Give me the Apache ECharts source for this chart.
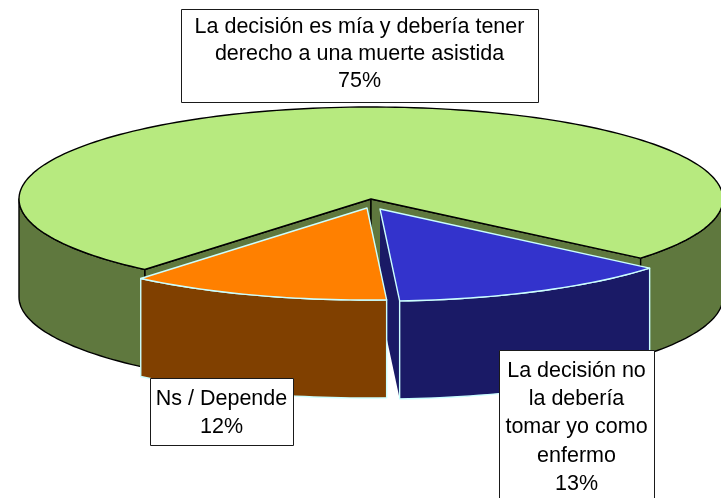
<!DOCTYPE html>
<html lang="es">
<head>
<meta charset="utf-8">
<style>
  html, body { margin: 0; padding: 0; background: #fff; }
  #main { width: 721px; height: 498px; }
</style>
</head>
<body>
<div id="main"></div>
<script src="https://cdn.jsdelivr.net/npm/echarts@6/dist/echarts.min.js"></script>
<script type="text/javascript">
  var categories = [
    'La decisión es mía y debería tener\nderecho a una muerte asistida',
    'La decisión no\nla debería\ntomar yo como\nenfermo',
    'Ns / Depende'
  ];
  var values = [75, 13, 12];

  // pie geometry, the chart has no axes so it is all by hand from the values
  var pie = { cx: 371, cy: 199, rx: 352, ry: 92, depth: 98, startAngle: 220 };
  var explode = [[0, 0], [9, 10], [-4, 9]];
  var topColors = ['#B7EA7F', '#3333CC', '#FF8000'];
  var wallColors = ['#5F783E', '#1A1A66', '#804000'];
  var edgeColors = ['#000000', '#CCFFFF', '#CCFFFF'];
  var boxes = [
    { x: 181, y: 9, width: 357, height: 93, lineHeight: 27, dy: -1 },
    { x: 499, y: 350, width: 155, height: 153, lineHeight: 28.2, dy: 1 },
    { x: 150, y: 378, width: 143, height: 67, lineHeight: 28, dy: 2 }
  ];

  var total = values.reduce(function(a, b) { return a + b; }, 0);

  function sliceAngles(index) {
    var start = pie.startAngle;
    for (var i = 0; i < index; i++) {
      start += values[i] / total * 360;
    }
    return [start, start + values[index] / total * 360];
  }

  function ellipsePoint(angle, ox, oy, drop) {
    var rad = angle * Math.PI / 180;
    return [
      pie.cx + ox + pie.rx * Math.sin(rad),
      pie.cy + oy + drop - pie.ry * Math.cos(rad)
    ];
  }

  function arcPoints(from, to, ox, oy, drop) {
    var pts = [];
    var steps = Math.ceil(Math.abs(to - from) / 1.5);
    for (var i = 0; i <= steps; i++) {
      pts.push(ellipsePoint(from + (to - from) * i / steps, ox, oy, drop));
    }
    return pts;
  }

  function polygon(points, fill, stroke) {
    return {
      type: 'polygon',
      shape: { points: points },
      style: { fill: fill, stroke: stroke, lineWidth: 1.4, lineJoin: 'round' }
    };
  }

  function renderSlice(params, api) {
    var i = params.dataIndex;
    var a = sliceAngles(i);
    var ox = explode[i][0], oy = explode[i][1];
    var top = topColors[i], wall = wallColors[i], edge = edgeColors[i];
    var center = [pie.cx + ox, pie.cy + oy];
    var centerLow = [center[0], center[1] + pie.depth];
    var children = [];

    // cut faces going down from the centre, the moved slices have no outline here
    [a[0], a[1]].forEach(function(angle) {
      children.push(polygon([
        center, ellipsePoint(angle, ox, oy, 0),
        ellipsePoint(angle, ox, oy, pie.depth), centerLow
      ], wall, i === 0 ? edge : null));
    });

    // outer wall, only the part that looks at the viewer
    [[90, 270], [450, 630]].forEach(function(front) {
      var from = Math.max(a[0], front[0]);
      var to = Math.min(a[1], front[1]);
      if (from < to) {
        children.push(polygon(
          arcPoints(from, to, ox, oy, 0).concat(arcPoints(to, from, ox, oy, pie.depth)),
          wall, edge
        ));
      }
    });

    children.push(polygon([center].concat(arcPoints(a[0], a[1], ox, oy, 0)), top, edge));
    return { type: 'group', children: children };
  }

  function renderBox(params, api) {
    var i = params.dataIndex;
    var b = boxes[i];
    return {
      type: 'group',
      children: [{
        type: 'rect',
        shape: { x: b.x + 0.5, y: b.y + 0.5, width: b.width, height: b.height },
        style: { fill: '#fff', stroke: '#1a1a1a', lineWidth: 1 }
      }, {
        type: 'text',
        x: b.x + b.width / 2,
        y: b.y + b.height / 2 + b.dy,
        style: {
          text: categories[i] + '\n' + api.value(0) + '%',
          fill: '#000',
          font: '21.5px "Liberation Sans", Arial, sans-serif',
          align: 'center',
          verticalAlign: 'middle',
          lineHeight: b.lineHeight
        }
      }]
    };
  }

  var chart = echarts.init(document.getElementById('main'), null, { renderer: 'canvas' });
  chart.setOption({
    backgroundColor: '#ffffff',
    animation: false,
    series: [
      { type: 'custom', coordinateSystem: 'none', renderItem: renderSlice, data: values, z: 2, silent: true },
      { type: 'custom', coordinateSystem: 'none', renderItem: renderBox, data: values, z: 3, silent: true }
    ]
  });
</script>
</body>
</html>
